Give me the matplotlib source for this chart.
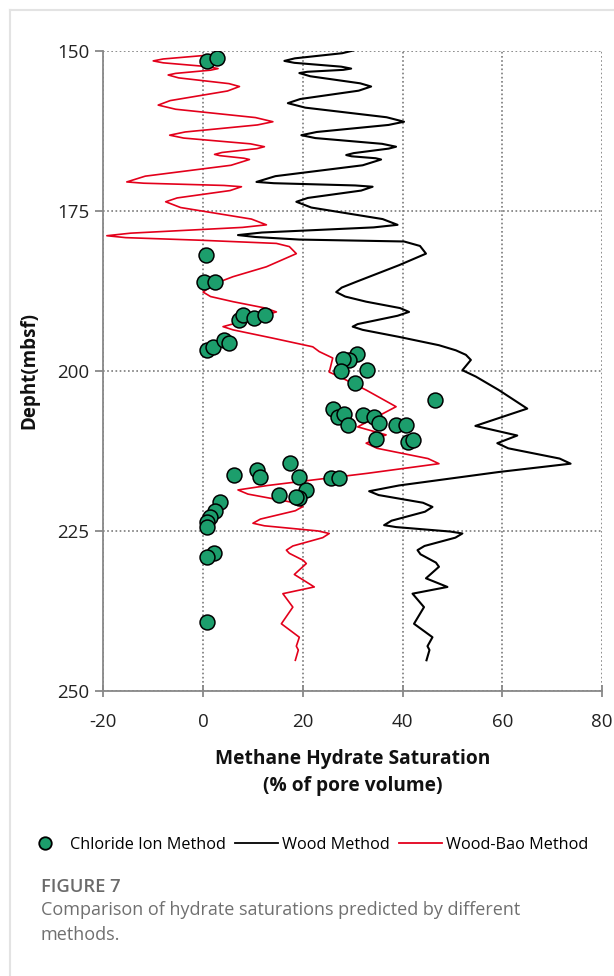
import matplotlib
matplotlib.use('Agg')
import matplotlib.pyplot as plt
from matplotlib.lines import Line2D

plt.rcParams['font.family'] = ['Open Sans', 'DejaVu Sans']
plt.rcParams['axes.unicode_minus'] = False

# Wood method (black line): depth (mbsf) and saturation (%)
wood_depth = [150.0, 150.4, 151.2, 151.6, 151.9, 152.5, 152.8, 153.0, 153.3, 153.5,
              154.0, 155.1, 155.6, 156.25, 157.55, 158.2, 158.9, 160.4, 161.1, 161.6,
              162.7, 163.2, 163.65, 164.55, 165.0, 165.3, 166.0, 166.3, 166.5, 166.8,
              167.0, 167.9, 169.6, 170.5, 170.7, 171.05, 171.25, 171.85, 173.0, 173.6,
              174.5, 176.3, 177.2, 177.6, 178.4, 178.8, 179.1, 179.5, 179.8, 180.5,
              181.7, 183.5, 186.1, 187.0, 187.7, 188.4, 189.2, 190.2, 190.8, 191.4,
              192.1, 192.7, 193.1, 193.6, 194.7, 196.0, 196.8, 197.5, 198.3, 199.9,
              200.9, 203.0, 205.9, 208.6, 210.1, 211.3, 212.1, 213.7, 214.5, 215.8,
              217.9, 218.8, 219.4, 220.6, 221.25, 222.0, 223.4, 224.1, 224.4, 225.1,
              225.4, 226.05, 227.35, 228.0, 228.65, 229.95, 230.6, 232.4, 233.75, 234.8,
              236.9, 239.5, 241.6, 243.0, 243.6, 245.2]
wood_sat = [30.0, 27.9, 18.4, 16.3, 18.3, 27.7, 29.7, 28.1, 20.9, 19.3,
            21.5, 31.5, 33.7, 31.2, 19.5, 17.0, 20.5, 36.8, 40.3, 37.2,
            22.8, 19.7, 22.5, 35.9, 38.7, 37.2, 30.2, 28.7, 29.8, 34.6,
            35.7, 32.0, 14.5, 10.7, 14.2, 30.5, 34.0, 31.7, 21.0, 18.7,
            21.7, 36.0, 39.0, 34.2, 11.8, 7.0, 10.5, 19.3, 40.3, 43.5,
            44.7, 39.3, 30.7, 27.8, 26.7, 28.5, 32.7, 39.5, 41.3, 39.0,
            34.7, 31.0, 30.0, 32.0, 39.3, 47.3, 50.7, 52.7, 53.7, 52.0,
            54.7, 59.3, 65.0, 54.6, 63.0, 59.0, 61.2, 71.5, 73.7, 59.3,
            39.3, 33.3, 35.2, 44.1, 46.0, 44.5, 37.8, 36.3, 38.7, 49.6,
            52.0, 50.6, 44.4, 43.0, 43.6, 46.7, 47.3, 44.7, 49.0, 42.0,
            44.3, 42.3, 46.0, 45.0, 45.4, 44.8]

# Wood-Bao method (red line)
bao_depth = [150.4, 150.7, 151.3, 151.6, 151.9, 152.5, 152.8, 153.05, 153.55, 153.8,
             154.25, 155.15, 155.6, 156.3, 157.8, 158.5, 159.15, 160.45, 161.1, 161.6,
             162.7, 163.2, 163.65, 164.55, 165.0, 165.3, 165.9, 166.2, 166.4, 166.8,
             167.0, 167.9, 169.6, 170.5, 170.7, 171.05, 171.25, 171.85, 173.0, 173.6,
             174.5, 176.3, 177.2, 177.6, 178.5, 178.9, 179.2, 179.6, 180.1, 180.6,
             181.7, 183.75, 185.3, 186.1, 187.0, 187.7, 188.4, 189.2, 190.2, 190.8,
             191.4, 193.1, 193.6, 194.9, 196.25, 197.0, 198.0, 200.2, 200.9, 203.0,
             205.6, 208.75, 210.0, 211.3, 212.1, 213.7, 214.5, 216.0, 217.9, 218.6,
             219.25, 220.55, 221.2, 221.85, 223.15, 223.8, 224.2, 225.0, 225.4, 226.05,
             227.35, 228.0, 228.5, 229.6, 230.1, 231.8, 233.75, 234.8, 236.9, 239.5,
             241.6, 243.0, 243.6, 245.2]
bao_sat = [3.0, 1.0, -8.0, -10.0, -8.0, 1.0, 3.0, 1.5, -5.5, -7.0,
           -4.9, 5.2, 7.3, 4.9, -6.6, -9.0, -5.5, 10.5, 14.0, 10.9,
           -3.6, -6.7, -3.9, 9.5, 12.3, 10.8, 3.8, 2.3, 3.4, 8.2,
           9.3, 5.6, -11.6, -15.3, -11.9, 4.2, 7.7, 5.4, -5.2, -7.5,
           -4.5, 9.7, 12.7, 7.9, -14.5, -19.3, -15.5, -0.7, 14.7, 17.3,
           18.7, 12.7, 6.0, 3.3, 1.2, 0.0, 1.5, 6.0, 12.5, 14.7,
           12.0, 4.0, 6.0, 14.0, 22.0, 23.3, 26.0, 25.3, 27.3, 32.7,
           38.7, 31.0, 36.7, 32.7, 34.9, 45.1, 47.3, 33.0, 13.0, 7.0,
           9.0, 18.0, 20.0, 18.5, 11.5, 10.0, 12.3, 23.0, 25.3, 24.0,
           18.0, 16.7, 17.3, 20.1, 20.7, 18.3, 22.3, 16.0, 18.0, 15.7,
           19.3, 18.7, 19.1, 18.5]

# Chloride ion method (green dots)
cl_sat = [0.7, 2.7,
          0.5, 0.1, 2.3,
          7.2, 8.0, 10.3, 12.5,
          0.7, 2.0, 4.1, 5.2,
          30.8, 29.2, 28.0, 27.7, 32.8, 30.5,
          46.5,
          26.0, 27.0, 28.3, 29.0, 32.0, 34.3, 35.3, 38.7, 40.7, 34.7, 41.0, 42.0,
          19.3, 20.7, 19.3, 25.7, 27.3,
          6.2, 10.8, 11.5, 17.5, 15.2, 18.7,
          3.3, 2.3, 1.3, 0.8, 0.7,
          2.1, 0.8,
          0.7]
cl_depth = [151.6, 151.2,
            181.9, 186.2, 186.2,
            192.0, 191.3, 191.8, 191.3,
            196.7, 196.25, 195.2, 195.7,
            197.4, 198.3, 198.2, 200.0, 199.9, 201.9,
            204.5,
            205.9, 207.2, 206.7, 208.5, 206.9, 207.2, 208.2, 208.5, 208.5, 210.7, 211.1, 210.8,
            216.6, 218.6, 219.9, 216.8, 216.8,
            216.2, 215.5, 216.6, 214.4, 219.4, 219.7,
            220.5, 221.9, 222.8, 223.6, 224.4,
            228.4, 229.1,
            239.2]

x_ticks = [-20, 0, 20, 40, 60, 80]
y_ticks = [150, 175, 200, 225, 250]

fig = plt.figure(figsize=(6.14, 9.76), dpi=100)
ax = fig.add_axes([0.1683, 0.2920, 0.8122, 0.6561])

ax.plot(wood_sat, wood_depth, color='black', lw=1.5, zorder=2,
        solid_joinstyle='round', label='Wood Method')
ax.plot(bao_sat, bao_depth, color='#e3001b', lw=1.2, zorder=2.5,
        solid_joinstyle='round', label='Wood-Bao Method')
ax.scatter(cl_sat, cl_depth, s=115, color='#1c9e6c', edgecolor='black',
           linewidth=1.1, zorder=3, label='Chloride Ion Method')

ax.set_xlim(-20, 80)
ax.set_ylim(250, 150)
ax.set_xticks(x_ticks)
ax.set_yticks(y_ticks)
ax.grid(True, color='#7a7a7a', linestyle=(0, (1, 1.5)), linewidth=1.2, zorder=0)
ax.set_axisbelow(True)

for s in ['top', 'right']:
    ax.spines[s].set_visible(False)
for s in ['left', 'bottom']:
    ax.spines[s].set_color('#888888')
    ax.spines[s].set_linewidth(1.3)

ax.tick_params(axis='y', direction='out', length=6, width=1.3, color='#888888',
               labelsize=13.5, labelcolor='#222222', pad=4)
ax.tick_params(axis='x', direction='inout', length=9, width=1.3, color='#888888',
               labelsize=13.5, labelcolor='#222222', pad=11.5)

ax.set_ylabel('Depht(mbsf)', fontsize=13.5, fontweight='bold', color='#111111')
ax.yaxis.set_label_coords(-0.129, 0.5)
ax.set_xlabel('Methane Hydrate Saturation\n(% of pore volume)', fontsize=13.75,
              fontweight='bold', color='#111111', linespacing=1.5)
ax.xaxis.set_label_coords(0.5, -0.09)

# legend row below the plot
handles = [
    Line2D([], [], marker='o', linestyle='none', markersize=9,
           markerfacecolor='#1c9e6c', markeredgecolor='black', markeredgewidth=1.3),
    Line2D([], [], color='black', lw=1.3),
    Line2D([], [], color='#e3001b', lw=1.3),
]
labels = ['Chloride Ion Method', 'Wood Method', 'Wood-Bao Method']
fig.legend(handles, labels, loc='center left', bbox_to_anchor=(23 / 614, 1 - 845 / 976),
           ncol=3, frameon=False, fontsize=11.7, handlelength=2.65, handletextpad=0.25,
           columnspacing=0.55, borderaxespad=0, borderpad=0)

# caption
fig.text(41 / 614, 1 - 887 / 976, 'FIGURE 7', fontsize=13.2, fontweight='semibold',
         color='#6b6b6b', va='center', ha='left')
fig.text(41 / 614, 1 - 910 / 976,
         'Comparison of hydrate saturations predicted by different',
         fontsize=13, color='#707070', va='center', ha='left')
fig.text(41 / 614, 1 - 935 / 976, 'methods.',
         fontsize=13, color='#707070', va='center', ha='left')

# light page frame
fig.add_artist(Line2D([10 / 614, 10 / 614], [0, 1 - 10 / 976], color='#e3e3e3', lw=1.5))
fig.add_artist(Line2D([10 / 614, 1], [1 - 10 / 976, 1 - 10 / 976], color='#e3e3e3', lw=1.5))

fig.savefig('out.png', dpi=100)
